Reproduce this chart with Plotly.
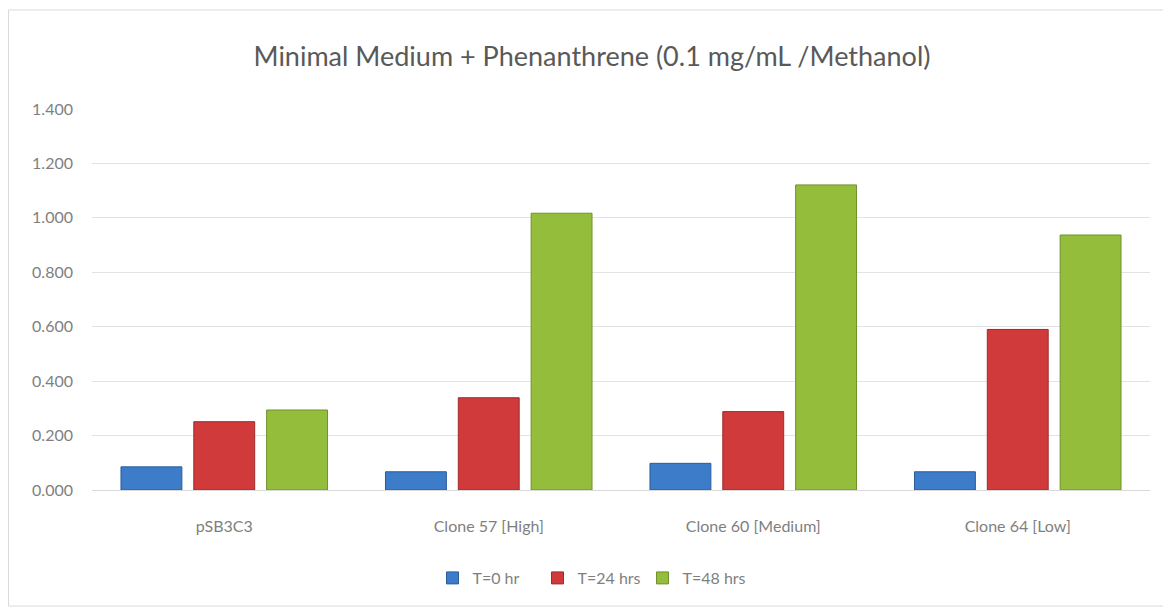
import plotly.graph_objects as go

categories = ["pSB3C3", "Clone 57 [High]", "Clone 60 [Medium]", "Clone 64 [Low]"]
t0 = [0.085, 0.067, 0.098, 0.067]
t24 = [0.251, 0.339, 0.288, 0.590]
t48 = [0.294, 1.017, 1.121, 0.937]
series_names = ["T=0 hr", "T=24 hrs", "T=48 hrs"]
tick_vals = [0, 0.2, 0.4, 0.6, 0.8, 1.0, 1.2, 1.4]

OFF = 8  # page body margin
W, H = 1163, 607
L = 92 - OFF
T = 109 - OFF
PB = 490 - OFF
PR = 1150 - OFF
R = W - PR
B = H - PB
pw, ph = PR - L, PB - T

colors = ["#3d7cc9", "#d03a3a", "#93bd3b"]
edges = ["#2a5c9a", "#a12a2a", "#6f9329"]

fig = go.Figure()
for name, vals, c, e in zip(series_names, [t0, t24, t48], colors, edges):
    fig.add_trace(go.Bar(x=categories, y=vals, name=name,
                         marker=dict(color=c, line=dict(color=e, width=1))))

def px_x(p):
    return (p - OFF - L) / pw

def px_y(p):
    return (PB - (p - OFF)) / ph

fig.update_layout(
    width=W, height=H,
    margin=dict(l=L, r=R, t=T, b=B),
    paper_bgcolor="white", plot_bgcolor="white",
    barmode="group", bargap=0.174, bargroupgap=0.164,
    font=dict(family="Lato, Open Sans, sans-serif", color="#7f7f7f", size=16),
    title=dict(text="Minimal Medium + Phenanthrene (0.1 mg/mL /Methanol)",
               x=px_x(592), xanchor="center", xref="paper",
               y=1 - (57 - OFF) / H, yanchor="middle",
               font=dict(size=27, color="#595959", family="Lato, Open Sans, sans-serif")),
    legend=dict(orientation="h", x=px_x(590), xanchor="center",
                y=px_y(578), yanchor="middle",
                font=dict(size=16, color="#7f7f7f"), itemwidth=30,
                entrywidth=60, entrywidthmode="pixels",
                traceorder="normal"),
    xaxis=dict(showgrid=False, showline=True, linecolor="#d9d9d9",
               ticks="", tickfont=dict(size=16, color="#7f7f7f"), ticklabelstandoff=22),
    yaxis=dict(range=[0, 1.4], tickvals=tick_vals, tickformat=".3f",
               showgrid=True, gridcolor="#e3e3e3", gridwidth=1,
               zeroline=False, ticks="", ticklabelstandoff=18,
               tickfont=dict(size=16, color="#7f7f7f")),
    shapes=[dict(type="rect", xref="paper", yref="paper",
                 x0=px_x(8.5), x1=px_x(1169), y0=px_y(606), y1=px_y(10),
                 line=dict(color="#d9d9d9", width=1), fillcolor="rgba(0,0,0,0)",
                 layer="below")],
)

fig.write_html("out.html")
